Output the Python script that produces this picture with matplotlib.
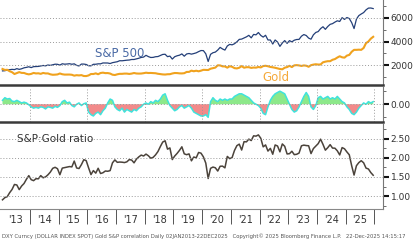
import matplotlib.pyplot as plt
import numpy as np

# monthly values, Jan 2013 .. Dec 2025
spx = [1500, 1515, 1570, 1600, 1630, 1610, 1690, 1630, 1680, 1760, 1800, 1850,
       1780, 1860, 1870, 1880, 1920, 1960, 1930, 2000, 1970, 2020, 2070, 2060,
       1995, 2105, 2070, 2085, 2110, 2065, 2100, 1970, 1920, 2080, 2080, 2045,
       1940, 1930, 2060, 2065, 2100, 2100, 2175, 2170, 2170, 2125, 2200, 2240,
       2280, 2365, 2360, 2385, 2410, 2425, 2470, 2470, 2520, 2575, 2645, 2675,
       2825, 2715, 2640, 2650, 2705, 2720, 2815, 2900, 2915, 2710, 2760, 2505,
       2705, 2785, 2835, 2945, 2750, 2940, 2980, 2925, 2975, 3035, 3140, 3230,
       3225, 2955, 2300, 2910, 3045, 3100, 3270, 3500, 3365, 3270, 3620, 3755,
       3715, 3810, 3970, 4180, 4205, 4295, 4395, 4525, 4310, 4605, 4565, 4765,
       4515, 4375, 4530, 4130, 4130, 3785, 4130, 3955, 3585, 3870, 4080, 3840,
       4075, 3970, 4110, 4170, 4180, 4450, 4590, 4510, 4290, 4195, 4570, 4770,
       4845, 5095, 5255, 5035, 5275, 5460, 5520, 5650, 5760, 5705, 6030, 5880,
       6040, 5955, 5610, 5100, 5910, 6205, 6340, 6460, 6690, 6840, 6850, 6800]

gold = [1665, 1580, 1595, 1470, 1390, 1235, 1310, 1395, 1330, 1325, 1250, 1205,
        1245, 1325, 1285, 1295, 1250, 1325, 1285, 1285, 1210, 1170, 1180, 1200,
        1280, 1215, 1185, 1185, 1190, 1170, 1095, 1135, 1115, 1140, 1065, 1060,
        1115, 1235, 1235, 1290, 1215, 1320, 1350, 1310, 1315, 1275, 1175, 1150,
        1210, 1250, 1250, 1270, 1270, 1240, 1270, 1320, 1280, 1270, 1275, 1305,
        1345, 1320, 1325, 1315, 1300, 1255, 1225, 1200, 1190, 1215, 1220, 1280,
        1320, 1315, 1290, 1285, 1305, 1410, 1415, 1520, 1470, 1515, 1465, 1520,
        1590, 1585, 1575, 1685, 1730, 1780, 1975, 1965, 1885, 1880, 1775, 1895,
        1850, 1735, 1710, 1770, 1905, 1770, 1815, 1815, 1755, 1785, 1775, 1830,
        1795, 1910, 1935, 1895, 1835, 1805, 1765, 1710, 1660, 1635, 1770, 1825,
        1930, 1825, 1970, 1990, 1965, 1920, 1965, 1940, 1850, 1985, 2035, 2065,
        2040, 2045, 2230, 2285, 2325, 2325, 2445, 2505, 2635, 2745, 2655, 2625,
        2800, 2860, 3125, 3290, 3290, 3305, 3290, 3450, 3860, 4000, 4240, 4400]

corr = [0.15, 0.25, 0.2, 0.22, 0.12, 0.1, 0.15, 0.1, 0.05, 0.08, 0.05, -0.02,
        -0.1, -0.15, -0.12, -0.15, -0.1, -0.12, -0.18, -0.1, -0.12, -0.15, -0.08, -0.12,
        -0.05, 0.1, 0.15, 0.05, 0.08, -0.05, -0.1, 0.0, 0.05, -0.05, 0.02, 0.05,
        -0.3, -0.4, -0.45, -0.35, -0.3, -0.4, -0.25, -0.15, 0.05, 0.2, 0.15, -0.1,
        -0.2, -0.25, -0.15, -0.3, -0.2, -0.25, -0.3, -0.2, -0.25, -0.15, -0.1, 0.0,
        0.05, 0.0, 0.1, 0.05, 0.15, 0.1, 0.2, 0.35, 0.4, 0.15, -0.05, -0.15,
        -0.25, -0.2, -0.1, -0.05, -0.15, -0.1, -0.05, -0.15, -0.3, -0.35, -0.4, -0.45,
        -0.45, -0.4, -0.5, 0.1, 0.25, 0.15, 0.1, 0.2, 0.15, 0.2, 0.15, 0.2,
        0.2, 0.3, 0.35, 0.4, 0.4, 0.35, 0.3, 0.25, 0.15, 0.05, 0.0, -0.05,
        -0.15, -0.35, -0.4, -0.1, 0.15, 0.3, 0.4, 0.45, 0.5, 0.45, 0.4, 0.2,
        0.0, -0.2, -0.3, -0.25, -0.1, 0.1, 0.3, 0.45, 0.3, -0.1, -0.2, -0.05,
        0.25, 0.3, 0.2, 0.25, 0.3, 0.2, 0.25, 0.2, 0.3, 0.2, 0.1, 0.05,
        -0.1, -0.2, -0.35, -0.4, -0.3, -0.15, -0.05, 0.05, 0.0, 0.1, 0.05, 0.1]

years = list(range(2013, 2026))
year_labels = ["'%02d" % (y % 100) for y in years]

t = 2013 + (np.arange(len(spx)) + 0.5) / 12.0
spx = np.array(spx, float)
gold = np.array(gold, float)
corr = np.array(corr, float)
ratio = spx / gold

fig = plt.figure(figsize=(4.15, 2.4), dpi=100)
R = 383 / 415
ax1 = fig.add_axes([0, 1 - 85 / 240, R, 85 / 240])
ax2 = fig.add_axes([0, 1 - 122 / 240, R, 35 / 240])
ax3 = fig.add_axes([0, 1 - 209 / 240, R, 85 / 240])

xl = (2012.955, 2026.3)
grid = dict(color='#9a9a9a', linestyle=(0, (1, 2)), linewidth=0.7)
for ax in (ax1, ax2, ax3):
    ax.set_xlim(*xl)
    ax.yaxis.tick_right()
    for s in ('top', 'left'):
        ax.spines[s].set_visible(False)
    ax.spines['right'].set_color('#777777')
    ax.spines['right'].set_linewidth(0.8)
    ax.tick_params(axis='y', which='major', length=4, width=1.5, color='#111111',
                   labelsize=6.5, labelcolor='#333333', pad=1.5)
    ax.tick_params(axis='y', which='minor', length=2, width=0.6, color='#555555')

# panel 1
ax1.plot(t, spx, color='#243f78', lw=0.9)
ax1.plot(t, gold, color='#f0a21e', lw=1.5)
ax1.set_ylim(300, 7530)
ax1.set_yticks([2000, 4000, 6000])
ax1.set_yticks([1000, 3000, 5000, 7000], minor=True)
for v in (2000, 4000, 6000):
    ax1.axhline(v, **grid)
ax1.text(2016.25, 2650, 'S&P 500', color='#4a6aa5', fontsize=8.5)
ax1.text(2022.1, 650, 'Gold', color='#f5a93a', fontsize=8.5)

# panel 2
ax2.fill_between(t, corr, 0, where=corr >= 0, interpolate=True, color='#8de88a', lw=0)
ax2.fill_between(t, corr, 0, where=corr <= 0, interpolate=True, color='#f28a8a', lw=0)
ax2.plot(t, corr, color='#3fe3dc', lw=1.1)
ax2.set_ylim(-0.68, 0.66)
ax2.set_yticks([0.0])
ax2.set_yticklabels(['0.00'])
ax2.set_yticks([-0.5, 0.5], minor=True)
ax2.axhline(0, **grid)
for y in range(2014, 2027, 2):
    ax2.axvline(y, **grid)

# panel 3
ax3.plot(t, ratio, color='#4b433b', lw=1.1)
ax3.set_ylim(0.66, 2.89)
ax3.set_yticks([1.0, 1.5, 2.0, 2.5])
ax3.set_yticklabels(['1.00', '1.50', '2.00', '2.50'])
ax3.set_yticks([0.75, 1.25, 1.75, 2.25, 2.75], minor=True)
for v in (1.0, 1.5, 2.0, 2.5):
    ax3.axhline(v, **grid)
ax3.text(2013.55, 2.42, 'S&P:Gold ratio', color='#333333', fontsize=7.5)

for ax in (ax1, ax2):
    ax.set_xticks([])
    ax.spines['bottom'].set_color('#3a3a3a')
    ax.spines['bottom'].set_linewidth(1.8)

ax3.spines['bottom'].set_color('#888888')
ax3.spines['bottom'].set_linewidth(0.8)
ax3.set_xticks(list(range(2014, 2027)))
ax3.set_xticklabels([])
ax3.set_xticks([y + 0.5 for y in years], minor=True)
ax3.set_xticklabels(year_labels, minor=True)
ax3.tick_params(axis='x', which='major', length=11, width=0.7, color='#555555', direction='out')
ax3.tick_params(axis='x', which='minor', length=0, labelsize=7, labelcolor='#333333', pad=4)

fig.text(0.005, 0.008,
         'DXY Curncy (DOLLAR INDEX SPOT) Gold S&P correlation Daily 02JAN2013-22DEC2025   '
         'Copyright\u00a9 2025 Bloomberg Finance L.P.   22-Dec-2025 14:15:17',
         fontsize=3.75, color='#555555')

fig.savefig('out.png', dpi=100)
